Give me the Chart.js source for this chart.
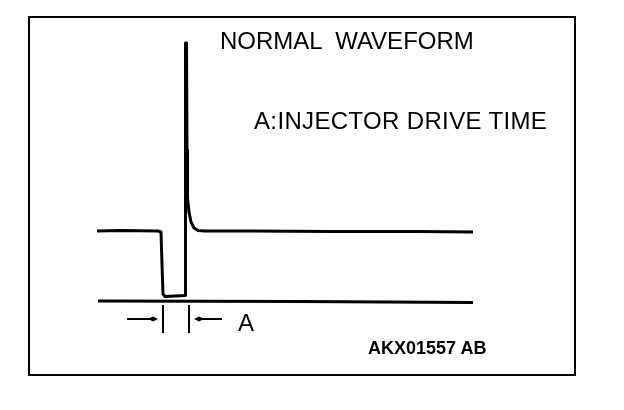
<!DOCTYPE html>
<html>
<head>
<meta charset="utf-8">
<script src="https://cdn.jsdelivr.net/npm/chart.js@4"></script>
<style>
  body { margin: 0; background: #fff; }
  #wrap { position: relative; width: 624px; height: 410px; overflow: hidden; }
  #frame { position: absolute; left: 28px; top: 16px; width: 548px; height: 360px; box-sizing: border-box; border: 2px solid #000; }
  canvas { position: absolute; left: 0; top: 0; }
  .lbl { position: absolute; font-family: "Liberation Sans", Arial, sans-serif; font-size: 24px; line-height: 1; color: #000; white-space: pre; }
  #code { font-weight: bold; font-size: 18px; }
</style>
</head>
<body>
<div id="wrap">
  <div id="frame"></div>
  <canvas id="wave" width="624" height="410"></canvas>
  <div class="lbl" style="left:220px; top:29px;">NORMAL  WAVEFORM</div>
  <div class="lbl" style="left:254px; top:109px; letter-spacing:0.35px;">A:INJECTOR DRIVE TIME</div>
  <div class="lbl" style="left:238px; top:311px;">A</div>
  <div class="lbl" id="code" style="left:368px; top:339px;">AKX01557 AB</div>
</div>
<script>
// injector voltage trace (time in ms, voltage in V)
const timeMs = [-3.25, -2.1, -0.2, -0.05, 0.0, 0.05, 0.15, 0.65, 1.175, 1.175, 1.225, 1.25, 1.275, 1.35, 1.45, 1.6, 1.8, 2.15, 4.4, 8.4, 12.9, 15.55];
const voltage = [14.0, 14.1, 14.0, 13.8, 7.4, 1.4, 0.9, 1.0, 1.1, 51.6, 51.6, 30.2, 20.6, 17.8, 15.8, 14.6, 14.1, 14.0, 14.0, 13.9, 13.9, 13.8];

// 0 V reference line
const groundTime = [-3.2, 6.9, 15.55];
const groundVolt = [0, -0.1, -0.3];

// "A" drive time marker: start / end of drive, arrow tails
const driveTime = [0.05, 1.35];
const arrowTail = [-1.75, 3.0];
const markerVolt = [-0.8, -6.4];
const arrowVolt = -3.6;

const toPoints = (xs, ys) => xs.map((t, i) => ({ x: t, y: ys[i] }));

const driveMarker = {
  id: 'driveMarker',
  afterDatasetsDraw(chart) {
    const { ctx, scales: { x, y } } = chart;
    const y1 = y.getPixelForValue(markerVolt[0]);
    const y2 = y.getPixelForValue(markerVolt[1]);
    const ya = y.getPixelForValue(arrowVolt);
    ctx.save();
    ctx.strokeStyle = '#000';
    ctx.fillStyle = '#000';
    ctx.lineWidth = 2;
    driveTime.forEach((t, i) => {
      const xt = x.getPixelForValue(t);
      const xo = x.getPixelForValue(arrowTail[i]);
      const dir = xo < xt ? 1 : -1; // arrow points toward the tick
      ctx.beginPath();
      ctx.moveTo(xt, y1);
      ctx.lineTo(xt, y2);
      ctx.stroke();
      const tip = xt - dir * 5;
      ctx.beginPath();
      ctx.moveTo(xo, ya);
      ctx.lineTo(tip - dir * 4, ya);
      ctx.stroke();
      ctx.beginPath();
      ctx.moveTo(tip, ya);
      ctx.lineTo(tip - dir * 5, ya - 2.5);
      ctx.lineTo(tip - dir * 10, ya);
      ctx.lineTo(tip - dir * 5, ya + 2.5);
      ctx.closePath();
      ctx.fill();
    });
    ctx.restore();
  }
};

new Chart(document.getElementById('wave'), {
  type: 'scatter',
  data: {
    datasets: [
      {
        data: toPoints(timeMs, voltage),
        showLine: true,
        borderColor: '#000',
        borderWidth: 3,
        pointRadius: 0,
        tension: 0,
        borderJoinStyle: 'round'
      },
      {
        data: toPoints(groundTime, groundVolt),
        showLine: true,
        borderColor: '#000',
        borderWidth: 3,
        pointRadius: 0,
        tension: 0
      }
    ]
  },
  options: {
    responsive: false,
    animation: false,
    layout: { padding: { left: 2, right: 2, top: 1, bottom: 9 } },
    scales: {
      x: { type: 'linear', min: -8, max: 23, display: false },
      y: { min: -20, max: 60, display: false }
    },
    plugins: { legend: { display: false }, tooltip: { enabled: false } }
  },
  plugins: [driveMarker]
});
</script>
</body>
</html>
